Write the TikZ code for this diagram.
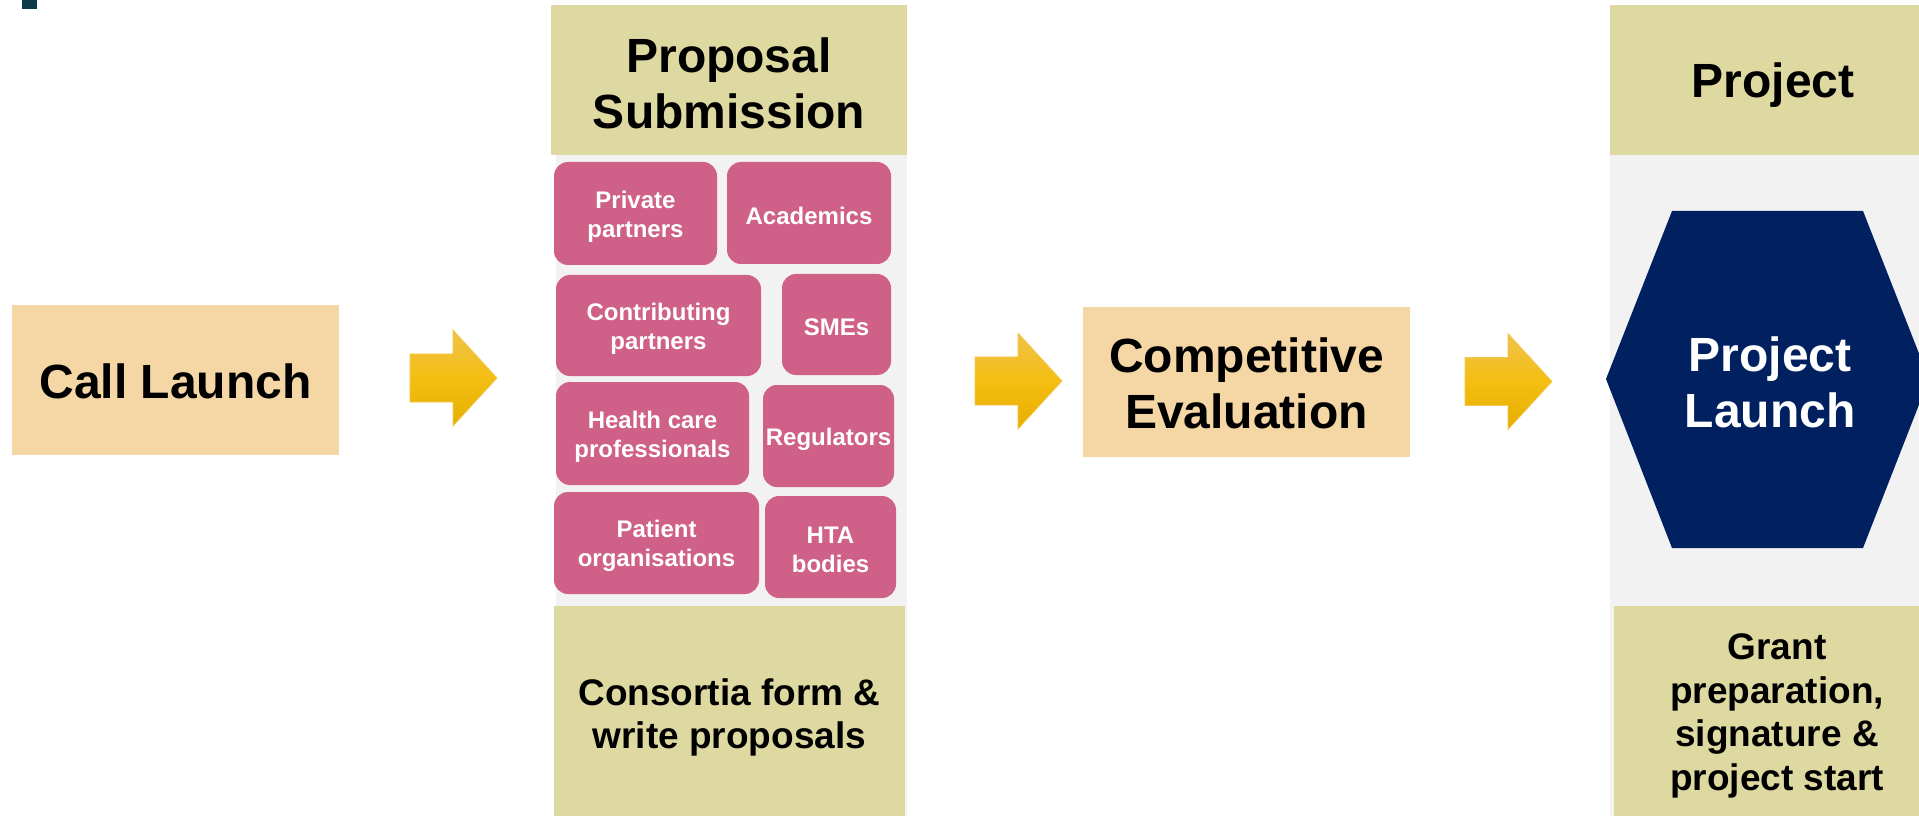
\documentclass[tikz,border=0pt]{standalone}
\usepackage{fontspec}
\setmainfont{Liberation Sans}
\definecolor{peach}{HTML}{F5D6A5}
\definecolor{khaki}{HTML}{DED9A0}
\definecolor{lgray}{HTML}{F2F2F2}
\definecolor{pinkbox}{HTML}{CF6087}
\definecolor{navy}{HTML}{002060}
\definecolor{arrtop}{HTML}{F0C24A}
\definecolor{arrmid}{HTML}{F4BE12}
\definecolor{arrbot}{HTML}{E7AE00}
\definecolor{arredge}{HTML}{F2C84E}
\definecolor{markc}{HTML}{0B3A4B}
\tikzset{
  bigtext/.style={font=\bfseries\fontsize{36}{42}\selectfont, align=center, inner sep=0pt},
  midtext/.style={font=\bfseries\fontsize{27.75}{32.25}\selectfont, align=center, inner sep=0pt},
  smalltext/.style={font=\bfseries\fontsize{18}{21.75}\selectfont, align=center, inner sep=0pt, text=white},
  peachbox/.style={fill=peach, inner sep=0pt},
  khakibox/.style={fill=khaki, inner sep=0pt},
  pinkrole/.style={fill=pinkbox, rounded corners=10.5pt, inner sep=0pt},
  flowarrow/.style={top color=arrtop, bottom color=arrbot, middle color=arrmid,
    draw=arredge, line width=0.5pt},
}
\begin{document}
\begin{tikzpicture}[x=0.75pt, y=-0.75pt]
\useasboundingbox (0,0) rectangle (1919,816);
\clip (0,0) rectangle (1919,816);
\fill[white] (0,0) rectangle (1919,816);

% top-left mark
\fill[markc] (22,0) rectangle (37,9);

% Call Launch
\node[peachbox, minimum width=245.25pt, minimum height=112.5pt] (call) at (175.5,380) {};
\node[bigtext] (calltxt) at ([yshift=-0.75pt]call.center) {Call Launch};

% Proposal Submission column
\fill[lgray] (556,155) rectangle (907,816);
\node[khakibox, minimum width=267pt, minimum height=112.5pt] (prophead) at (729,80) {};
\node[bigtext] (propheadtxt) at ([yshift=-2.25pt]prophead.center) {Proposal\\Submission};
\node[khakibox, minimum width=263.25pt, minimum height=157.5pt] (consortia) at (729.5,711) {};
\node[midtext] (consortiatxt) at ([yshift=-4.5pt]consortia.center) {Consortia form \&\\write proposals};

\node[pinkrole, minimum width=122.25pt, minimum height=77.25pt] (pp) at (635.5,213.5) {};
\node[pinkrole, minimum width=123pt, minimum height=76.5pt] (ac) at (809,213) {};
\node[pinkrole, minimum width=153.75pt, minimum height=75.75pt] (cp) at (658.5,325.5) {};
\node[pinkrole, minimum width=81.75pt, minimum height=75.75pt] (sm) at (836.5,324.5) {};
\node[pinkrole, minimum width=144.75pt, minimum height=77.25pt] (hc) at (652.5,433.5) {};
\node[pinkrole, minimum width=98.25pt, minimum height=76.5pt] (rg) at (828.5,436) {};
\node[pinkrole, minimum width=153.75pt, minimum height=76.5pt] (po) at (656.5,543) {};
\node[pinkrole, minimum width=98.25pt, minimum height=76.5pt] (ht) at (830.5,547) {};
\node[smalltext] (pptxt) at ([yshift=-2.25pt]pp.center) {Private\\partners};
\node[smalltext] (actxt) at ([yshift=-2.25pt]ac.center) {Academics};
\node[smalltext] (cptxt) at ([yshift=-2.25pt]cp.center) {Contributing\\partners};
\node[smalltext] (smtxt) at ([yshift=-2.25pt]sm.center) {SMEs};
\node[smalltext] (hctxt) at ([yshift=-2.25pt]hc.center) {Health care\\professionals};
\node[smalltext] (rgtxt) at ([yshift=-2.25pt]rg.center) {Regulators};
\node[smalltext] (potxt) at ([yshift=-2.25pt]po.center) {Patient\\organisations};
\node[smalltext] (httxt) at ([yshift=-2.25pt]ht.center) {HTA\\bodies};

% Competitive Evaluation
\node[peachbox, minimum width=245.25pt, minimum height=112.5pt] (eval) at (1246.5,382) {};
\node[bigtext] (evaltxt) at ([yshift=-0.75pt]eval.center) {Competitive\\Evaluation};

% Project column
\fill[lgray] (1610,155) rectangle (1919,816);
\node[khakibox, minimum width=244.5pt, minimum height=112.5pt] (projhead) at (1773,80) {};
\node[bigtext] (projheadtxt) at ([yshift=-3.75pt]projhead.center) {Project};
\node[khakibox, minimum width=244.5pt, minimum height=157.5pt] (grant) at (1777,711) {};
\node[midtext, font=\bfseries\fontsize{27.75}{32.75}\selectfont] (granttxt) at ([yshift=-3.75pt]grant.center) {Grant\\preparation,\\signature \&\\project start};
\fill[navy] (1606,379) -- (1672,211) -- (1863,211) -- (1929,379) -- (1863,548) -- (1672,548) -- cycle;
\node[bigtext, text=white] (launch) at (1770,382) {Project\\Launch};

% block arrows
\coordinate (a1) at (410,378);
\coordinate (a2) at (975,381);
\coordinate (a3) at (1465,381.5);
\foreach \a in {a1,a2,a3}{
  \path[flowarrow] (\a) ++(0,-24) -- ++(43,0) -- ++(0,-24) -- ++(44,48) -- ++(-44,48) -- ++(0,-24) -- ++(-43,0) -- cycle;
}
\end{tikzpicture}
\end{document}
